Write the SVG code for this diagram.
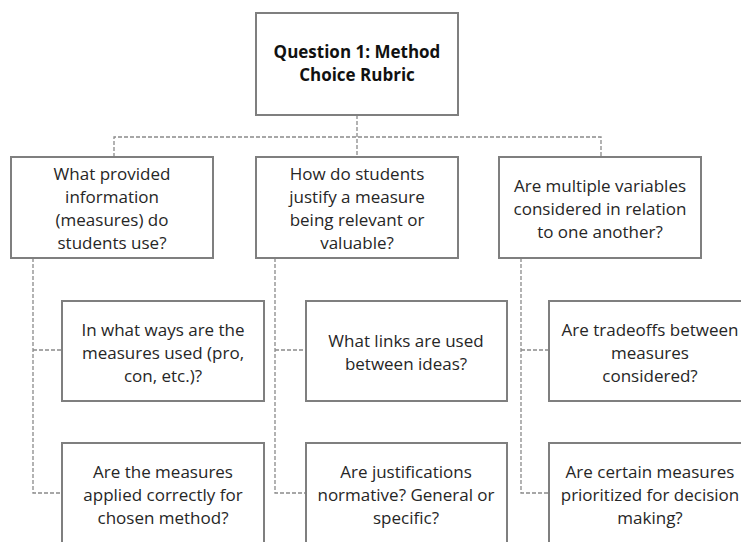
<svg xmlns="http://www.w3.org/2000/svg" width="741" height="542" viewBox="0 0 741 542">
<style>
.box{fill:#fff;stroke:#7f7f7f;stroke-width:2}
.t{font-family:"Open Sans","Noto Sans",sans-serif;font-size:17px;fill:#262626;text-anchor:middle}
.tb{font-family:"Open Sans","Noto Sans",sans-serif;font-size:17px;font-weight:bold;fill:#111;text-anchor:middle}
.c{fill:none;stroke:#8a8a8a;stroke-width:1.3;stroke-dasharray:4 2}
</style>
<rect width="741" height="542" fill="#fff"/>
<g id="connectors">
<path class="c" d="M357 115V157"/>
<path class="c" d="M114 157V137H601V157"/>
<path class="c" d="M33 258V493H62M33 350H62"/>
<path class="c" d="M275 258V493H306M275 350H306"/>
<path class="c" d="M521 258V493H549M521 350H549"/>
</g>
<g id="root"><rect class="box" x="256" y="13" width="202" height="102"/>
<text class="tb" x="357" y="58">Question 1: Method</text><text class="tb" x="357" y="81">Choice Rubric</text></g>
<g id="q1"><rect class="box" x="11" y="157" width="202" height="101"/>
<text class="t" x="112" y="180">What provided</text><text class="t" x="112" y="203">information</text><text class="t" x="112" y="226">(measures) do</text><text class="t" x="112" y="249">students use?</text></g>
<g id="q2"><rect class="box" x="256" y="157" width="202" height="101"/>
<text class="t" x="357" y="180">How do students</text><text class="t" x="357" y="203">justify a measure</text><text class="t" x="357" y="226">being relevant or</text><text class="t" x="357" y="249">valuable?</text></g>
<g id="q3"><rect class="box" x="499" y="157" width="202" height="101"/>
<text class="t" x="600" y="192">Are multiple variables</text><text class="t" x="600" y="215">considered in relation</text><text class="t" x="600" y="238">to one another?</text></g>
<g id="q1a"><rect class="box" x="62" y="301" width="202" height="100"/>
<text class="t" x="163" y="336">In what ways are the</text><text class="t" x="163" y="359">measures used (pro,</text><text class="t" x="163" y="382">con, etc.)?</text></g>
<g id="q1b"><rect class="box" x="62" y="443" width="202" height="101"/>
<text class="t" x="163" y="478">Are the measures</text><text class="t" x="163" y="501">applied correctly for</text><text class="t" x="163" y="524">chosen method?</text></g>
<g id="q2a"><rect class="box" x="306" y="301" width="201" height="100"/>
<text class="t" x="406" y="347">What links are used</text><text class="t" x="406" y="370">between ideas?</text></g>
<g id="q2b"><rect class="box" x="306" y="443" width="201" height="101"/>
<text class="t" x="406" y="478">Are justifications</text><text class="t" x="406" y="501">normative? General or</text><text class="t" x="406" y="524">specific?</text></g>
<g id="q3a"><rect class="box" x="549" y="301" width="202" height="100"/>
<text class="t" x="650" y="336">Are tradeoffs between</text><text class="t" x="650" y="359">measures</text><text class="t" x="650" y="382">considered?</text></g>
<g id="q3b"><rect class="box" x="549" y="443" width="202" height="101"/>
<text class="t" x="650" y="478">Are certain measures</text><text class="t" x="650" y="501">prioritized for decision</text><text class="t" x="650" y="524">making?</text></g>
</svg>
